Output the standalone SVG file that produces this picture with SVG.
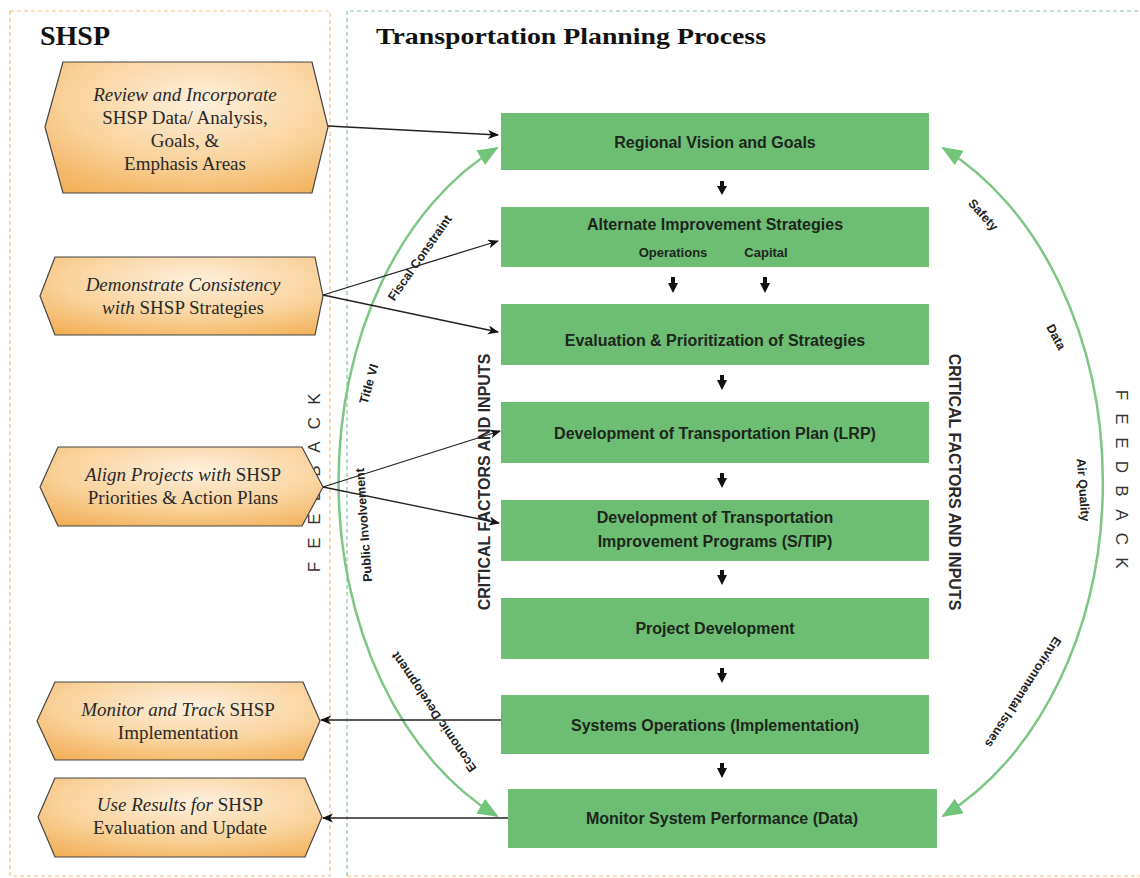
<svg xmlns="http://www.w3.org/2000/svg" width="1140" height="878" viewBox="0 0 1140 878">
<defs>
  <radialGradient id="hexfill" cx="0.55" cy="0.3" r="0.85">
    <stop offset="0" stop-color="#fdf0dc"/>
    <stop offset="0.55" stop-color="#f9d29b"/>
    <stop offset="1" stop-color="#f2ad52"/>
  </radialGradient>
  <marker id="blk" markerUnits="userSpaceOnUse" markerWidth="12" markerHeight="10" refX="10" refY="4.5" orient="auto-start-reverse" viewBox="0 0 12 10">
    <path d="M0,0 L11,4.5 L0,9 L3,4.5 z" fill="#111"/>
  </marker>
  <marker id="grn" markerUnits="userSpaceOnUse" markerWidth="22" markerHeight="18" refX="19" refY="8.5" orient="auto-start-reverse" viewBox="0 0 22 18">
    <path d="M0,0 L21,8.5 L0,17 z" fill="#72c47a"/>
  </marker>
</defs>
<style>
  .hex { fill: url(#hexfill); stroke: #444; stroke-width: 1.2; }
  .ht { font-family: "Liberation Serif", serif; font-size: 19px; fill: #2a2a2a; text-anchor: middle; }
  .it { font-style: italic; }
  .box { fill: #6dbe72; }
  .bt { font-family: "Liberation Sans", Arial, sans-serif; font-size: 16px; font-weight: bold; fill: #1c261c; text-anchor: middle; }
  .bs { font-family: "Liberation Sans", Arial, sans-serif; font-size: 13px; font-weight: bold; fill: #1c261c; text-anchor: middle; }
  .conn { stroke: #222; stroke-width: 1.3; fill: none; }
  .arc { stroke: #7cc783; stroke-width: 2.5; fill: none; }
  .lbl { font-family: "Liberation Sans", Arial, sans-serif; font-size: 12.5px; font-weight: bold; fill: #222; text-anchor: middle; }
  .crit { font-family: "Liberation Sans", Arial, sans-serif; font-size: 16px; font-weight: bold; fill: #2a2a2a; text-anchor: middle; }
  .fb { font-family: "Liberation Sans", Arial, sans-serif; font-size: 17px; fill: #333; text-anchor: middle; }
  .title { font-family: "Liberation Serif", serif; font-weight: bold; fill: #111; }
  .sarrow { fill: #111; }
</style>

<rect width="1140" height="878" fill="#ffffff"/>

<g id="panels">
  <rect x="10" y="11" width="320" height="865" fill="none" stroke="#f2c089" stroke-width="1.2" stroke-dasharray="4,3"/>
  <path d="M347,876 V11 H1140" fill="none" stroke="#8cc4a8" stroke-width="1.2" stroke-dasharray="4,3"/>
  <path d="M347,876 H1140" fill="none" stroke="#f2c089" stroke-width="1.2" stroke-dasharray="4,3"/>
  <text class="title" x="40" y="45" font-size="28">SHSP</text>
  <text class="title" x="376" y="44" font-size="24" textLength="390" lengthAdjust="spacingAndGlyphs">Transportation Planning Process</text>
</g>

<g id="feedback-labels">
  <text class="fb" transform="translate(314,483) rotate(-90)" dy="6" x="-84 -60 -36 -12 12 36 60 84">FEEDBACK</text>
  <text class="fb" transform="translate(1122,479) rotate(90)" dy="6" x="-84 -60 -36 -12 12 36 60 84">FEEDBACK</text>
  <text class="crit" transform="translate(484,482) rotate(-90)" dy="6">CRITICAL FACTORS AND INPUTS</text>
  <text class="crit" transform="translate(955,482) rotate(90)" dy="6">CRITICAL FACTORS AND INPUTS</text>
</g>

<g id="arcs">
  <path class="arc" d="M497,148 A263,364 0 0 0 497,816" marker-start="url(#grn)" marker-end="url(#grn)"/>
  <path class="arc" d="M943,148 A273,367 0 0 1 943,816" marker-start="url(#grn)" marker-end="url(#grn)"/>
  <text class="lbl" transform="translate(420,258) rotate(-55)" dy="4">Fiscal Constraint</text>
  <text class="lbl" transform="translate(369,384) rotate(-74)" dy="4">Title VI</text>
  <text class="lbl" transform="translate(364,525) rotate(-94)" dy="4">Public Involvement</text>
  <text class="lbl" transform="translate(434,712) rotate(-124)" dy="4">Economic Development</text>
  <text class="lbl" transform="translate(983,215) rotate(48)" dy="4">Safety</text>
  <text class="lbl" transform="translate(1056,337) rotate(62)" dy="4">Data</text>
  <text class="lbl" transform="translate(1083,490) rotate(86)" dy="4">Air Quality</text>
  <text class="lbl" transform="translate(1023,692) rotate(123)" dy="4">Environmental Issues</text>
</g>

<g id="hex1">
  <polygon class="hex" points="45,127 63,62 312,62 328,127 312,193 63,193"/>
  <text class="ht it" x="185" y="101">Review and Incorporate</text>
  <text class="ht" x="185" y="124">SHSP Data/ Analysis,</text>
  <text class="ht" x="185" y="147">Goals, &amp;</text>
  <text class="ht" x="185" y="170">Emphasis Areas</text>
</g>
<g id="hex2">
  <polygon class="hex" points="40,296 55,257 315,257 323,296 315,335 55,335"/>
  <text class="ht it" x="183" y="291">Demonstrate Consistency</text>
  <text class="ht" x="183" y="314"><tspan class="it">with</tspan>  SHSP Strategies</text>
</g>
<g id="hex3">
  <polygon class="hex" points="40,487 58,447 302,447 323,487 302,526 58,526"/>
  <text class="ht" x="183" y="481"><tspan class="it">Align Projects with</tspan>  SHSP</text>
  <text class="ht" x="183" y="504">Priorities &amp; Action Plans</text>
</g>
<g id="hex4">
  <polygon class="hex" points="37,721 55,682 303,682 320,721 303,760 55,760"/>
  <text class="ht" x="178" y="716"><tspan class="it">Monitor and Track</tspan> SHSP</text>
  <text class="ht" x="178" y="739">Implementation</text>
</g>
<g id="hex5">
  <polygon class="hex" points="38,817 55,778 305,778 322,817 305,857 55,857"/>
  <text class="ht" x="180" y="811"><tspan class="it">Use Results for</tspan> SHSP</text>
  <text class="ht" x="180" y="834">Evaluation and Update</text>
</g>

<g id="box1">
  <rect class="box" x="501" y="113" width="428" height="57"/>
  <text class="bt" x="715" y="148">Regional Vision and Goals</text>
</g>
<g id="box2">
  <rect class="box" x="501" y="207" width="428" height="60"/>
  <text class="bt" x="715" y="230">Alternate Improvement Strategies</text>
  <text class="bs" x="673" y="257">Operations</text>
  <text class="bs" x="766" y="257">Capital</text>
</g>
<g id="box3">
  <rect class="box" x="501" y="304" width="428" height="61"/>
  <text class="bt" x="715" y="346">Evaluation &amp; Prioritization of Strategies</text>
</g>
<g id="box4">
  <rect class="box" x="501" y="402" width="428" height="61"/>
  <text class="bt" x="715" y="439">Development of Transportation Plan (LRP)</text>
</g>
<g id="box5">
  <rect class="box" x="501" y="500" width="428" height="61"/>
  <text class="bt" x="715" y="523">Development of Transportation</text>
  <text class="bt" x="715" y="547">Improvement Programs (S/TIP)</text>
</g>
<g id="box6">
  <rect class="box" x="501" y="598" width="428" height="61"/>
  <text class="bt" x="715" y="634">Project Development</text>
</g>
<g id="box7">
  <rect class="box" x="501" y="695" width="428" height="59"/>
  <text class="bt" x="715" y="731">Systems Operations (Implementation)</text>
</g>
<g id="box8">
  <rect class="box" x="508" y="789" width="429" height="59"/>
  <text class="bt" x="722" y="824">Monitor System Performance (Data)</text>
</g>

<g id="connectors">
  <path class="sarrow" d="M720,181 h4 v5 h3 l-5,9 l-5,-9 h3 z"/>
  <path class="sarrow" d="M671,277 h4 v6 h3 l-5,10 l-5,-10 h3 z"/>
  <path class="sarrow" d="M763,277 h4 v6 h3 l-5,10 l-5,-10 h3 z"/>
  <path class="sarrow" d="M720,375 h4 v5 h3 l-5,10 l-5,-10 h3 z"/>
  <path class="sarrow" d="M720,473 h4 v5 h3 l-5,10 l-5,-10 h3 z"/>
  <path class="sarrow" d="M720,570 h4 v5 h3 l-5,10 l-5,-10 h3 z"/>
  <path class="sarrow" d="M720,668 h4 v5 h3 l-5,10 l-5,-10 h3 z"/>
  <path class="sarrow" d="M720,763 h4 v5 h3 l-5,10 l-5,-10 h3 z"/>

  <line class="conn" x1="328" y1="126" x2="498" y2="135" marker-end="url(#blk)"/>
  <line class="conn" x1="323" y1="295" x2="498" y2="241" marker-end="url(#blk)"/>
  <line class="conn" x1="323" y1="295" x2="498" y2="332" marker-end="url(#blk)"/>
  <line class="conn" x1="323" y1="487" x2="500" y2="431" marker-end="url(#blk)"/>
  <line class="conn" x1="323" y1="487" x2="499" y2="523" marker-end="url(#blk)"/>
  <line class="conn" x1="501" y1="720" x2="321" y2="720" marker-end="url(#blk)"/>
  <line class="conn" x1="508" y1="818" x2="323" y2="818" marker-end="url(#blk)"/>
</g>
</svg>
